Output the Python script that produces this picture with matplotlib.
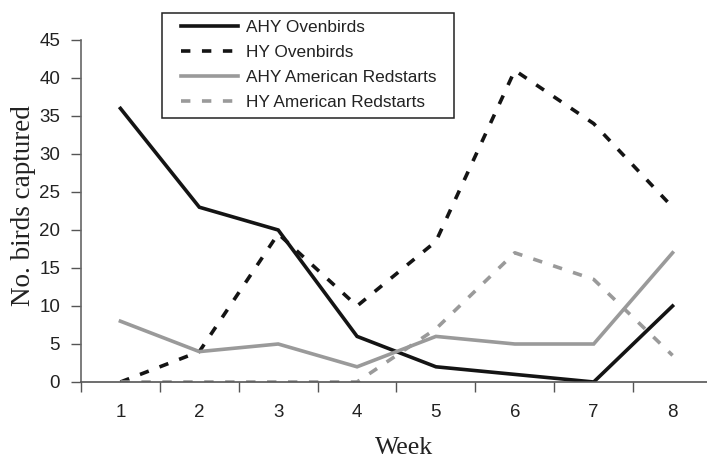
import matplotlib
matplotlib.use("Agg")
import matplotlib.pyplot as plt
from matplotlib.patches import Rectangle

weeks = [1, 2, 3, 4, 5, 6, 7, 8]
ahy_ovenbirds = [36, 23, 20, 6, 2, 1, 0, 10]
hy_ovenbirds = [0, 4, 19.5, 10, 18.5, 41, 34, 23]
ahy_redstarts = [8, 4, 5, 2, 6, 5, 5, 17]
hy_redstarts = [0, 0, 0, 0, 7, 17, 13.5, 3.5]
yticks = [0, 5, 10, 15, 20, 25, 30, 35, 40, 45]

W, H = 707, 458
fig = plt.figure(figsize=(W / 100, H / 100), dpi=100)
ax_h = 382 - 40
ax_w = 631
ax = fig.add_axes([81 / W, (H - 382) / H, ax_w / W, ax_h / H])

black = "#141414"
gray = "#9a9a9a"
lw = 2.6
dash = (0, (2.6, 3.2))

ax.plot(weeks, ahy_ovenbirds, color=black, lw=lw, label="AHY Ovenbirds", solid_joinstyle="miter")
ax.plot(weeks, hy_ovenbirds, color=black, lw=lw, linestyle=dash, label="HY Ovenbirds")
ax.plot(weeks, ahy_redstarts, color=gray, lw=lw, label="AHY American Redstarts", solid_joinstyle="miter")
ax.plot(weeks, hy_redstarts, color=gray, lw=lw, linestyle=dash, label="HY American Redstarts")

ax.set_xlim(0.5, 8.5)
ax.set_ylim(0, 45)
ax.set_yticks(yticks)
ax.set_xticks(weeks)
ax.set_xticks([w + 0.5 for w in [0] + weeks[:-1]], minor=True)
ax.tick_params(axis="x", which="major", length=0, pad=16, labelsize=13.5)
ax.tick_params(axis="x", which="minor", length=7, width=1, color="#555555", direction="out")
ax.tick_params(axis="y", which="major", length=7, width=1, color="#555555", pad=8, labelsize=13.5)
for lab in ax.get_xticklabels() + ax.get_yticklabels():
    lab.set_fontfamily("Liberation Sans")
    lab.set_color("#222222")

for s in ["top", "right"]:
    ax.spines[s].set_visible(False)
ax.spines["left"].set_color("#666666")
ax.spines["bottom"].set_color("#555555")
ax.spines["left"].set_linewidth(1.2)
ax.spines["bottom"].set_linewidth(1.2)

xl = ax.set_xlabel("Week", fontfamily="Liberation Serif", fontsize=18.5, color="#222222")
xl.set_va("center")
ax.xaxis.set_label_coords((404 - 81) / ax_w, (382 - 448) / ax_h)
yl = ax.set_ylabel("No. birds captured", fontfamily="Liberation Serif", fontsize=19.5, color="#222222")
yl.set_va("center")
ax.yaxis.set_label_coords((23 - 81) / ax_w, (382 - 206) / ax_h)

leg = fig.legend(loc="upper left", bbox_to_anchor=(181 / W, 1 - 20 / H), bbox_transform=fig.transFigure,
                 frameon=False, borderaxespad=0, borderpad=0,
                 prop={"family": "Liberation Sans", "size": 12.4},
                 handlelength=3.3, handletextpad=0.5, labelspacing=0.58)
for t in leg.get_texts():
    t.set_color("#222222")

fig.patches.append(Rectangle((162 / W, 1 - 118 / H), (454 - 162) / W, (118 - 13) / H,
                             transform=fig.transFigure, fill=False, edgecolor="#222222", lw=1.1))

fig.savefig("out.png", dpi=100)
